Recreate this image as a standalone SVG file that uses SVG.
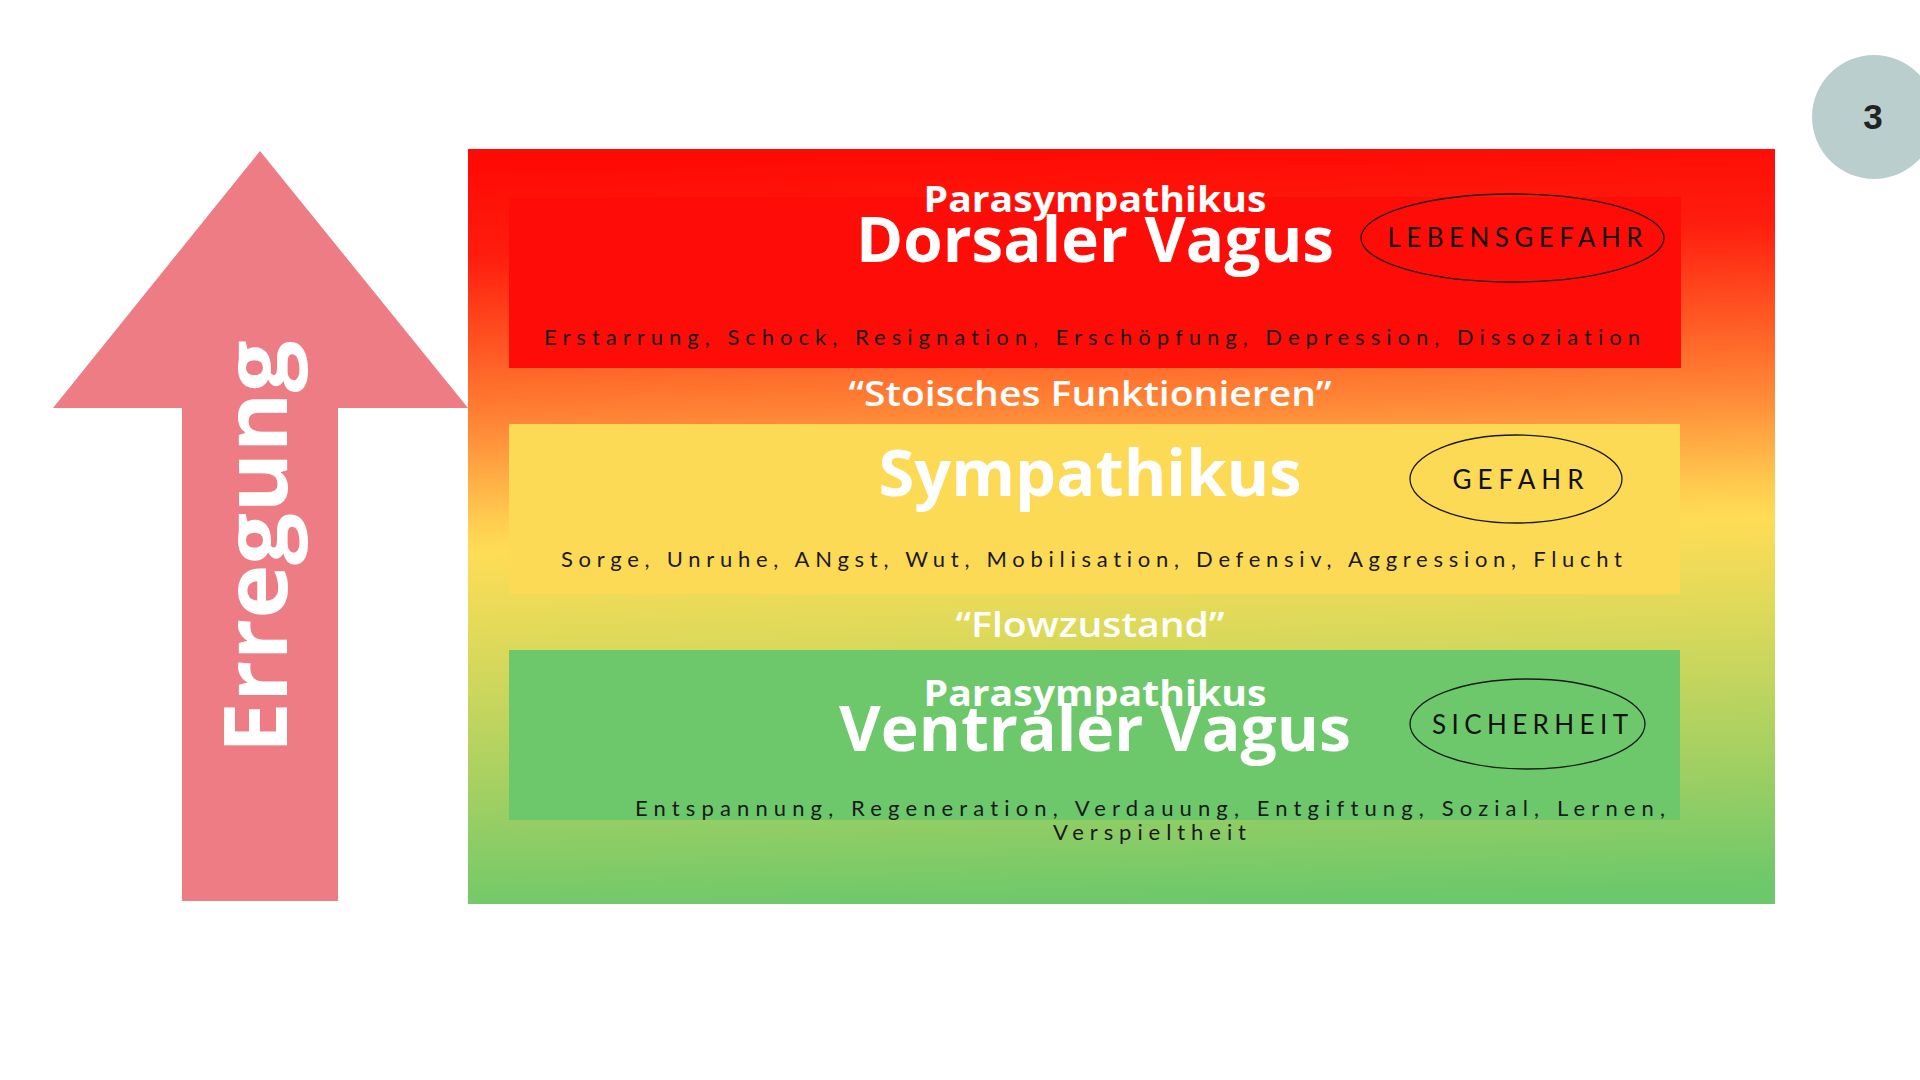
<svg xmlns="http://www.w3.org/2000/svg" width="1920" height="1080" viewBox="0 0 1920 1080">
<defs>
<linearGradient id="bg" gradientUnits="userSpaceOnUse" x1="1100" y1="149" x2="1120" y2="904">
<stop offset="0" stop-color="#ff0a05"/>
<stop offset="0.12" stop-color="#ff1d0e"/>
<stop offset="0.25" stop-color="#ff5a24"/>
<stop offset="0.35" stop-color="#ff8a38"/>
<stop offset="0.47" stop-color="#ffcc50"/>
<stop offset="0.51" stop-color="#ffdc56"/>
<stop offset="0.64" stop-color="#dcd95a"/>
<stop offset="0.82" stop-color="#a6d062"/>
<stop offset="1" stop-color="#6cc86a"/>
</linearGradient>
<style>
text{font-variant-ligatures:none;font-feature-settings:"liga" 0,"clig" 0}
.head{font-family:"Open Sans","Liberation Sans",sans-serif;font-weight:700;fill:#ffffff;text-anchor:middle}
.quote{font-family:"Open Sans","Liberation Sans",sans-serif;font-weight:600;fill:#ffffff;text-anchor:middle;font-size:35px}
.desc{font-family:Lato,"Liberation Sans",sans-serif;font-weight:400;fill:#1a1a1a;font-size:22px}
.tag{font-family:Lato,"Liberation Sans",sans-serif;font-weight:400;fill:#111111;font-size:26px;text-anchor:middle}
.oval{fill:none;stroke:#1a1a1a;stroke-width:1.3}
</style>
</defs>
<rect x="0" y="0" width="1920" height="1080" fill="#ffffff"/>

<g id="arrow">
<polygon points="260,151 468,408 338,408 338,901 182,901 182,408 53,408" fill="#ee7c85"/>
<text transform="translate(287,547) rotate(-90)" x="0" y="0" text-anchor="middle" font-family="'Open Sans','Liberation Sans',sans-serif" font-weight="700" font-size="87" fill="#ffffff" textLength="413" lengthAdjust="spacingAndGlyphs">Erregung</text>
</g>

<g id="page-number">
<circle cx="1874" cy="117" r="62" fill="#bacece"/>
<text x="1873" y="129" text-anchor="middle" font-family="'Liberation Sans',Arial,sans-serif" font-weight="700" font-size="35" fill="#222222">3</text>
</g>

<g id="scale-background">
<rect x="468" y="149" width="1307" height="755" fill="url(#bg)"/>
</g>

<g id="dorsal">
<rect x="509" y="197" width="1172" height="171" fill="#fe0c08"/>
<text class="head" x="1095" y="212" font-size="35" textLength="343" lengthAdjust="spacingAndGlyphs">Parasympathikus</text>
<text class="head" x="1095" y="262" font-size="63" textLength="478" lengthAdjust="spacingAndGlyphs">Dorsaler Vagus</text>
<ellipse class="oval" cx="1512.5" cy="238" rx="151.5" ry="44"/>
<text class="tag" x="1515" y="247" textLength="255" lengthAdjust="spacing">LEBENSGEFAHR</text>
<text class="desc" x="544" y="345" textLength="1096" lengthAdjust="spacing">Erstarrung, Schock, Resignation, Erschöpfung, Depression, Dissoziation</text>
</g>

<g id="label-stoisch">
<text class="quote" x="1090" y="406" textLength="483" lengthAdjust="spacingAndGlyphs">“Stoisches Funktionieren”</text>
</g>

<g id="sympathikus">
<rect x="509" y="424" width="1171" height="170" fill="#fdda56"/>
<text class="head" x="1090" y="496" font-size="64" textLength="423" lengthAdjust="spacingAndGlyphs">Sympathikus</text>
<ellipse class="oval" cx="1516" cy="479" rx="106" ry="44"/>
<text class="tag" x="1518" y="489" textLength="131" lengthAdjust="spacing">GEFAHR</text>
<text class="desc" x="561" y="567" textLength="1061" lengthAdjust="spacing">Sorge, Unruhe, ANgst, Wut, Mobilisation, Defensiv, Aggression, Flucht</text>
</g>

<g id="label-flow">
<text class="quote" x="1090" y="637" textLength="269" lengthAdjust="spacingAndGlyphs">“Flowzustand”</text>
</g>

<g id="ventral">
<rect x="509" y="650" width="1171" height="170" fill="#6cc86a"/>
<text class="head" x="1095" y="706" font-size="35" textLength="343" lengthAdjust="spacingAndGlyphs">Parasympathikus</text>
<text class="head" x="1095" y="751" font-size="63" textLength="512" lengthAdjust="spacingAndGlyphs">Ventraler Vagus</text>
<ellipse class="oval" cx="1527.5" cy="724" rx="117.5" ry="45"/>
<text class="tag" x="1530" y="734" textLength="196" lengthAdjust="spacing">SICHERHEIT</text>
<text class="desc" x="635" y="816" textLength="1030" lengthAdjust="spacing">Entspannung, Regeneration, Verdauung, Entgiftung, Sozial, Lernen,</text>
<text class="desc" x="1053" y="840" textLength="193" lengthAdjust="spacing">Verspieltheit</text>
</g>

<g id="connectors"></g>
</svg>
